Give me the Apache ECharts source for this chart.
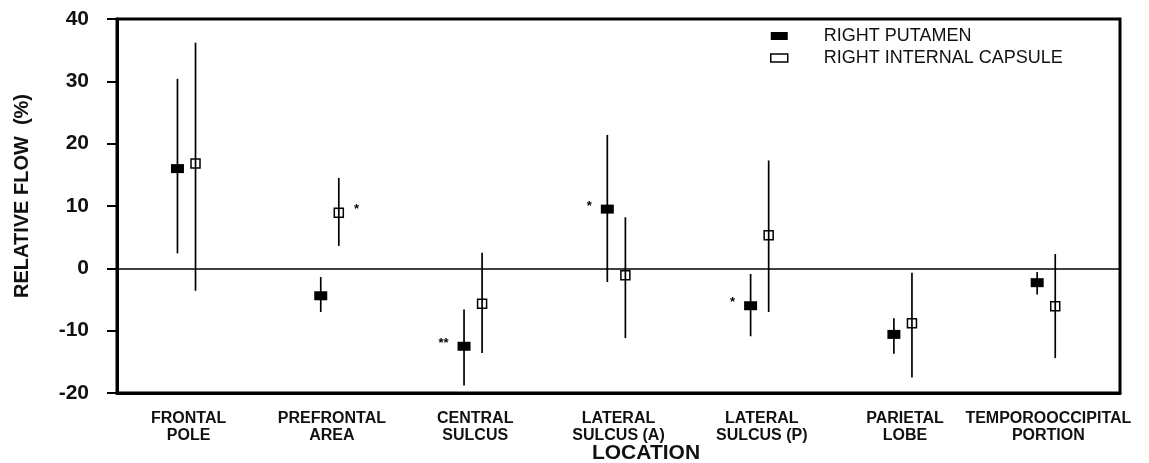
<!DOCTYPE html>
<html>
<head>
<meta charset="utf-8">
<script src="https://cdn.jsdelivr.net/npm/echarts@6/dist/echarts.min.js"></script>
<style>
html,body{margin:0;padding:0;background:#fff;}
#c{width:1149px;height:463px;}
</style>
</head>
<body>
<div id="c"></div>
<script>
const categories = ['FRONTAL\nPOLE','PREFRONTAL\nAREA','CENTRAL\nSULCUS','LATERAL\nSULCUS (A)','LATERAL\nSULCUS (P)','PARIETAL\nLOBE','TEMPOROOCCIPITAL\nPORTION'];
const putamenMean = [16.0, -4.4, -12.5, 9.5, -6.0, -10.6, -2.3];
const putamenHigh = [30.4, -1.4, -6.6, 21.4, -0.9, -8.0, -0.6];
const putamenLow  = [2.4, -7.0, -18.8, -2.2, -10.9, -13.7, -4.2];
const icMean = [16.8, 8.9, -5.7, -1.1, 5.3, -8.8, -6.1];
const icHigh = [36.2, 14.5, 2.5, 8.2, 17.3, -0.7, 2.3];
const icLow  = [-3.6, 3.6, -13.6, -11.2, -7.0, -17.5, -14.4];
const putamenSig = ['', '', '**', '*', '*', '', ''];
const icSig = ['', '*', '', '', '', '', ''];
const yTicks = [-20, -10, 0, 10, 20, 30, 40];

const FONT = "'Liberation Sans', Arial, Helvetica, sans-serif";
const PUT_OFF = -0.078, IC_OFF = 0.048;

const chart = echarts.init(document.getElementById('c'), null, {renderer: 'canvas'});

function errRender(params, api) {
  const x = api.value(0), lo = api.value(1), hi = api.value(2);
  const p1 = api.coord([x, lo]), p2 = api.coord([x, hi]);
  return {type: 'line', shape: {x1: p1[0], y1: p1[1], x2: p2[0], y2: p2[1]},
          style: {stroke: '#000', lineWidth: 1.7}};
}

const option = {
  animation: false,
  backgroundColor: '#fff',
  grid: {left: 117, right: 29, top: 19, bottom: 70, show: true, borderColor: '#000', borderWidth: 3},
  legend: {
    orient: 'vertical', left: 770, top: 27, padding: 0, itemWidth: 17, itemHeight: 8, itemGap: 4,
    selectedMode: false,
    textStyle: {fontFamily: FONT, fontSize: 18, color: '#111', lineHeight: 18, padding: [0, 0, 0, 31]},
    data: [
      {name: 'RIGHT PUTAMEN', icon: 'rect', itemStyle: {color: '#000'}},
      {name: 'RIGHT INTERNAL CAPSULE', icon: 'rect', itemStyle: {color: '#fff', borderColor: '#000', borderWidth: 1.5}}
    ]
  },
  xAxis: [
    {type: 'category', data: categories, boundaryGap: true,
     axisLine: {onZero: false, lineStyle: {color: '#000', width: 3}},
     axisTick: {alignWithLabel: true, length: 7, lineStyle: {color: '#000', width: 2}},
     axisLabel: {fontFamily: FONT, fontWeight: 'bold', fontSize: 16, lineHeight: 17, color: '#111', margin: 17, interval: 0},
     splitLine: {show: false}},
    {type: 'value', min: -0.5, max: 6.5, show: false}
  ],
  yAxis: {
    type: 'value', min: yTicks[0], max: yTicks[yTicks.length - 1], interval: 10,
    axisLine: {show: true, onZero: false, lineStyle: {color: '#000', width: 3}},
    axisTick: {show: true, length: 10, lineStyle: {color: '#000', width: 2}},
    axisLabel: {fontFamily: FONT, fontWeight: 'bold', fontSize: 21, color: '#111', margin: 28},
    splitLine: {show: false}
  },
  graphic: [
    {type: 'text', x: 22, y: 196, rotation: Math.PI / 2,
     style: {text: 'RELATIVE FLOW  (%)', font: "bold 20px " + FONT, fill: '#111', align: 'center', verticalAlign: 'middle'}},
    {type: 'text', x: 646, y: 453,
     style: {text: 'LOCATION', font: "bold 21px " + FONT, fill: '#111', align: 'center', verticalAlign: 'middle'}}
  ],
  series: [
    {name: 'putErr', type: 'custom', xAxisIndex: 1, yAxisIndex: 0, z: 5, renderItem: errRender,
     encode: {x: 0, y: [1, 2]},
     data: categories.map((c, i) => [i + PUT_OFF, putamenLow[i], putamenHigh[i]]),
     markLine: {silent: true, symbol: 'none', label: {show: false},
                lineStyle: {color: '#000', width: 1.5, type: 'solid'}, data: [{yAxis: 0}]}},
    {name: 'icErr', type: 'custom', xAxisIndex: 1, yAxisIndex: 0, z: 5, renderItem: errRender,
     encode: {x: 0, y: [1, 2]},
     data: categories.map((c, i) => [i + IC_OFF, icLow[i], icHigh[i]])},
    {name: 'RIGHT PUTAMEN', type: 'scatter', xAxisIndex: 1, yAxisIndex: 0, z: 3,
     symbol: 'rect', symbolSize: [13, 9],
     itemStyle: {color: '#000', opacity: 1},
     label: {show: true, position: 'left', distance: 9, offset: [0, -3], formatter: p => p.value[2],
             fontFamily: FONT, fontWeight: 'bold', fontSize: 13, color: '#000'},
     data: categories.map((c, i) => [i + PUT_OFF, putamenMean[i], putamenSig[i]])},
    {name: 'RIGHT INTERNAL CAPSULE', type: 'scatter', xAxisIndex: 1, yAxisIndex: 0, z: 3,
     symbol: 'rect', symbolSize: [9, 9],
     itemStyle: {color: '#fff', borderColor: '#000', borderWidth: 1.5, opacity: 1},
     label: {show: true, position: 'right', distance: 10, offset: [0, -3], formatter: p => p.value[2],
             fontFamily: FONT, fontWeight: 'bold', fontSize: 13, color: '#000'},
     data: categories.map((c, i) => [i + IC_OFF, icMean[i], icSig[i]])}
  ]
};
chart.setOption(option);
</script>
</body>
</html>
